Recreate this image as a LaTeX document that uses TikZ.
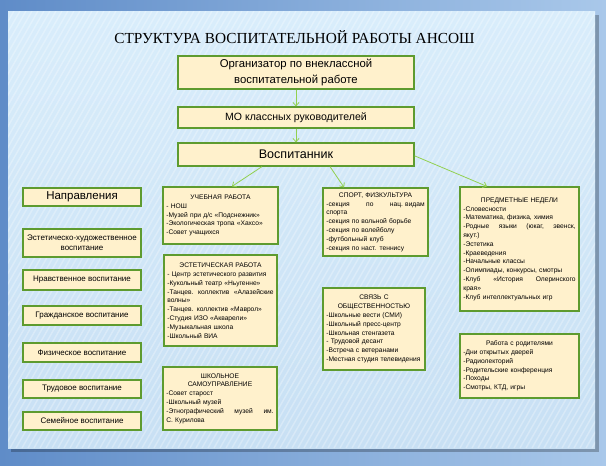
\documentclass[tikz,border=0pt]{standalone}
\usepackage{fontspec}
\setmainfont{Liberation Sans}
\newfontfamily\titlefont{Liberation Serif}
\usetikzlibrary{arrows.meta,calc}
\definecolor{boxfill}{HTML}{FFF1CC}
\definecolor{boxline}{HTML}{5E9B2F}
\definecolor{arrowc}{HTML}{92D050}
\definecolor{bgdark}{HTML}{5F8CC8}
\definecolor{bglight}{HTML}{A9C8EA}
\definecolor{paneltop}{HTML}{D9EDFB}
\definecolor{panelbot}{HTML}{C8E0F4}
\newcommand\mycenter[1]{\noindent\hbox to \hsize{\hss#1\hss}}
\newcommand\myjust[1]{\noindent\hbox to \hsize{#1}}
\begin{document}
\begin{tikzpicture}[x=0.75pt,y=-0.75pt,
  box/.style={draw=boxline, fill=boxfill, line width=0.9pt, inner sep=0pt, align=center, text=black},
  cbox/.style={draw=boxline, fill=boxfill, line width=0.9pt, inner xsep=2.5pt, inner ysep=0pt, align=left, text=black, font=\fontsize{5}{6.6}\selectfont},
  lbox/.style={box, minimum width=88.5pt, font=\fontsize{6}{7.5}\selectfont},
  arr/.style={draw=arrowc, line width=0.6pt, -{Straight Barb[length=2.5pt,width=4.5pt]}}]
\useasboundingbox (0,0) rectangle (606,465);
% background
\fill[left color=bgdark, right color=bglight] (0,0) rectangle (606,465);
\fill[black, opacity=0.25] (11,15) rectangle (599,452);
\fill[top color=paneltop, bottom color=panelbot] (8,11) rectangle (595,448);
\begin{scope}
  \clip (8,11) rectangle (595,448);
  \foreach \i in {-260,-254,...,600}
    \draw[white, opacity=0.28, line width=1.1pt] (\i,448) -- (\i+250,11);
\end{scope}
% title
\node[font=\titlefont\fontsize{11.5}{14}\selectfont, inner sep=0pt] (title) at (294.5,37) {СТРУКТУРА ВОСПИТАТЕЛЬНОЙ РАБОТЫ АНСОШ};
% top chain
\node[box, minimum width=177pt, minimum height=24.75pt, font=\fontsize{8.5}{12}\selectfont] (org) at (296,72.5) {Организатор по внеклассной\\воспитательной работе};
\node[box, minimum width=177pt, minimum height=15.75pt, font=\fontsize{7.9}{10}\selectfont] (mo) at (296,117.5) {МО классных руководителей};
\node[box, minimum width=177pt, minimum height=17.25pt, font=\fontsize{9.4}{11}\selectfont] (vosp) at (296,154.5) {Воспитанник};
% left column
\node[lbox, minimum height=13.5pt, font=\fontsize{8.6}{10}\selectfont] (napr) at (82,197) {Направления};
\node[lbox, minimum height=21pt] (esth) at (82,243) {Эстетическо-художественное\\воспитание};
\node[lbox, minimum height=15pt] (nrav) at (82,280) {Нравственное воспитание};
\node[lbox, minimum height=14.25pt] (grazh) at (82,315.5) {Гражданское воспитание};
\node[lbox, minimum height=14.25pt] (fiz) at (82,352.5) {Физическое воспитание};
\node[lbox, minimum height=13.5pt] (trud) at (82,389) {Трудовое воспитание};
\node[lbox, minimum height=13.5pt] (sem) at (82,421) {Семейное воспитание};
% middle column
\node[cbox, minimum width=86.25pt, minimum height=42.75pt, text width=81.25pt] (ucheb) at (220.5,215.5) {%
\mycenter{УЧЕБНАЯ РАБОТА}\\
- НОШ\\
-Музей при д/с «Подснежник»\\
-Экологическая тропа «Хахсо»\\
-Совет учащихся};
\node[cbox, minimum width=84.75pt, minimum height=68.25pt, text width=79.75pt] (estw) at (220.5,300.5) {%
\mycenter{ЭСТЕТИЧЕСКАЯ РАБОТА}\\
- Центр эстетического развития\\
-Кукольный театр «Ньугенне»\\
\myjust{-Танцев.\hfill коллектив\hfill «Алазейские}\\
волны»\\
-Танцев. коллектив «Маврол»\\
-Студия ИЗО «Акварели»\\
-Музыкальная школа\\
-Школьный ВИА};
\node[cbox, minimum width=85.5pt, minimum height=47.25pt, text width=80.5pt] (samo) at (220,398.5) {%
\mycenter{ШКОЛЬНОЕ}\\
\mycenter{САМОУПРАВЛЕНИЕ}\\
-Совет старост\\
-Школьный музей\\
\myjust{-Этнографический\hfill музей\hfill им.}\\
С. Курилова};
% third column
\node[cbox, minimum width=78.75pt, minimum height=51pt, text width=73.75pt] (sport) at (375.5,222) {%
\mycenter{СПОРТ, ФИЗКУЛЬТУРА}\\
\myjust{-секция\hfill по\hfill нац.\ видам}\\
спорта\\
-секция по вольной борьбе\\
-секция по волейболу\\
-футбольный клуб\\
-секция по наст. теннису};
\node[cbox, minimum width=76.5pt, minimum height=61.5pt, text width=71.5pt] (svyaz) at (374,329) {%
\mycenter{СВЯЗЬ С}\\
\mycenter{ОБЩЕСТВЕННОСТЬЮ}\\
-Школьные вести (СМИ)\\
-Школьный пресс-центр\\
-Школьная стенгазета\\
- Трудовой десант\\
-Встреча с ветеранами\\
-Местная студия телевидения};
% right column
\node[cbox, minimum width=89.25pt, minimum height=93pt, text width=84.25pt] (predm) at (519.5,249) {%
\mycenter{ПРЕДМЕТНЫЕ НЕДЕЛИ}\\
-Словесности\\
-Математика, физика, химия\\
\myjust{-Родные\hfill языки\hfill (юкаг,\hfill эвенск,}\\
якут.)\\
-Эстетика\\
-Краеведения\\
-Начальные классы\\
-Олимпиады, конкурсы, смотры\\
\myjust{-Клуб\hfill «История\hfill Олеринского}\\
края»\\
-Клуб интеллектуальных игр};
\node[cbox, minimum width=89.25pt, minimum height=48pt, text width=84.25pt] (rod) at (519.5,366) {%
\mycenter{Работа с родителями}\\
-Дни открытых дверей\\
-Радиолекторий\\
-Родительские конференция\\
-Походы\\
-Смотры, КТД, игры};
% arrows
\draw[arr] (org.south) -- (mo.north);
\draw[arr] (mo.south) -- (vosp.north);
\draw[arr] ([xshift=-25.5pt]vosp.south) -- ([xshift=8.6pt]ucheb.north);
\draw[arr] ([xshift=25.5pt]vosp.south) -- ([xshift=-23.6pt]sport.north);
\draw[arr] ([yshift=-1pt]vosp.east) -- ([xshift=-24.4pt]predm.north);
\end{tikzpicture}
\end{document}
